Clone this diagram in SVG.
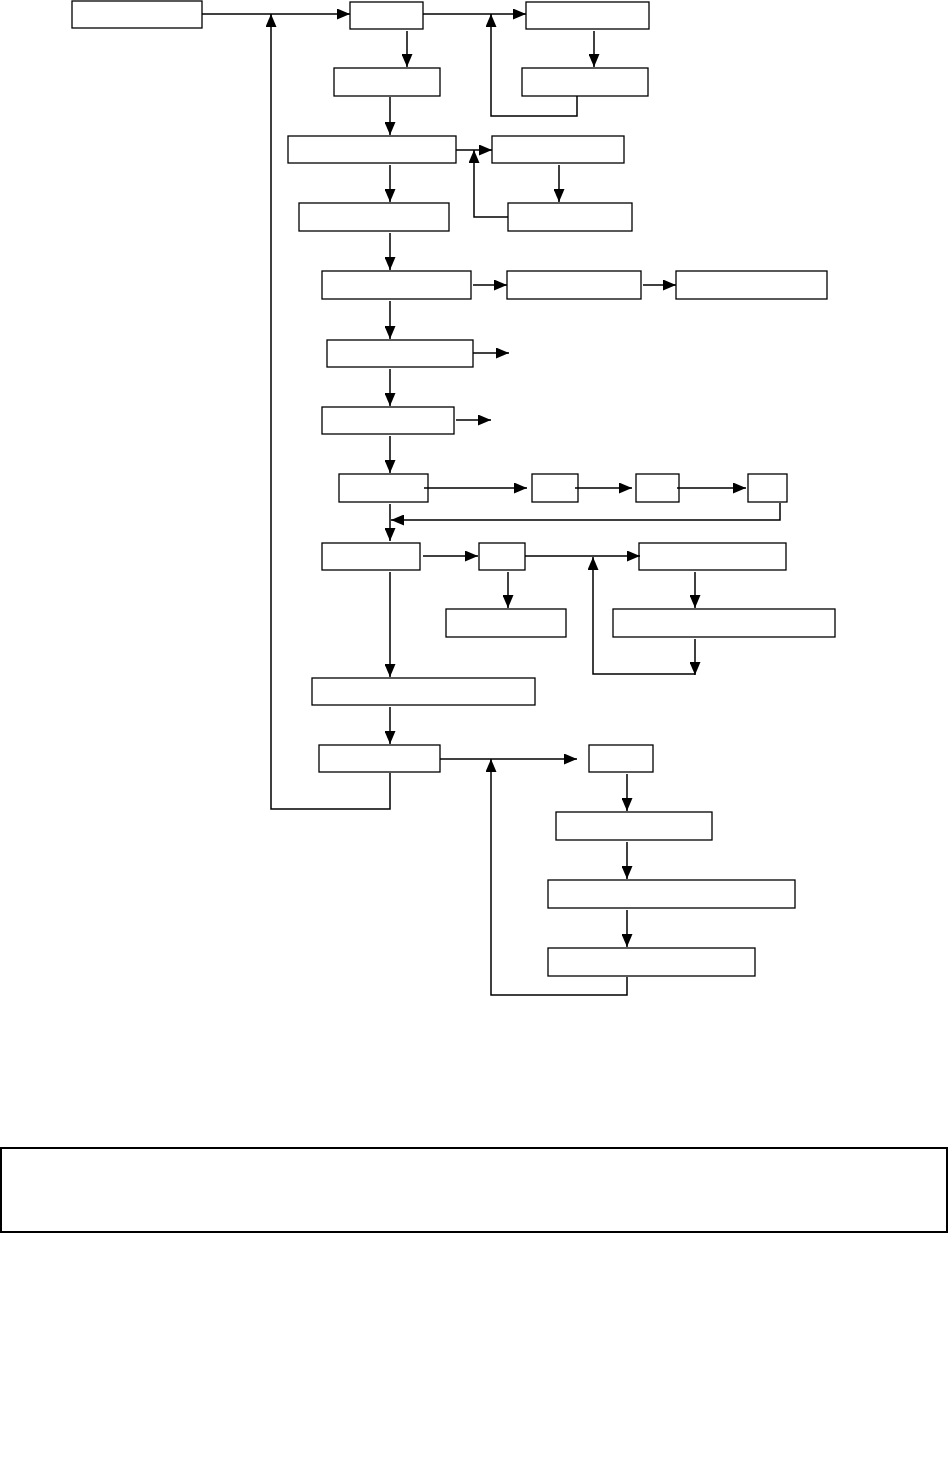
<svg xmlns="http://www.w3.org/2000/svg" width="949" height="1470" viewBox="0 0 949 1470">
<style>
.n rect{fill:#fff;stroke:#000;stroke-width:1.3}
#connectors path{fill:none;stroke:#000;stroke-width:1.5}
</style>
<defs>
<marker id="ah" markerUnits="userSpaceOnUse" markerWidth="13" markerHeight="11" refX="13" refY="5.5" orient="auto">
<path d="M0,0 L13,5.5 L0,11 z" fill="#000"/>
</marker>
</defs>
<rect width="949" height="1470" fill="#fff"/>
<g id="nodes">
<g id="A" class="n"><rect x="72" y="1" width="130" height="27"/></g>
<g id="B" class="n"><rect x="350" y="2" width="73" height="27"/></g>
<g id="C" class="n"><rect x="526" y="2" width="123" height="27"/></g>
<g id="B2" class="n"><rect x="334" y="68" width="106" height="28"/></g>
<g id="C2" class="n"><rect x="522" y="68" width="126" height="28"/></g>
<g id="D" class="n"><rect x="288" y="136" width="168" height="27"/></g>
<g id="E" class="n"><rect x="492" y="136" width="132" height="27"/></g>
<g id="E2" class="n"><rect x="508" y="203" width="124" height="28"/></g>
<g id="F" class="n"><rect x="299" y="203" width="150" height="28"/></g>
<g id="G" class="n"><rect x="322" y="271" width="149" height="28"/></g>
<g id="H" class="n"><rect x="507" y="271" width="134" height="28"/></g>
<g id="I" class="n"><rect x="676" y="271" width="151" height="28"/></g>
<g id="J" class="n"><rect x="327" y="340" width="146" height="27"/></g>
<g id="K" class="n"><rect x="322" y="407" width="132" height="27"/></g>
<g id="L" class="n"><rect x="339" y="474" width="89" height="28"/></g>
<g id="M" class="n"><rect x="532" y="474" width="46" height="28"/></g>
<g id="N" class="n"><rect x="636" y="474" width="43" height="28"/></g>
<g id="O" class="n"><rect x="748" y="474" width="39" height="28"/></g>
<g id="P" class="n"><rect x="322" y="543" width="98" height="27"/></g>
<g id="Q" class="n"><rect x="479" y="543" width="46" height="27"/></g>
<g id="R" class="n"><rect x="639" y="543" width="147" height="27"/></g>
<g id="Q2" class="n"><rect x="446" y="609" width="120" height="28"/></g>
<g id="R2" class="n"><rect x="613" y="609" width="222" height="28"/></g>
<g id="P2" class="n"><rect x="312" y="678" width="223" height="27"/></g>
<g id="S" class="n"><rect x="319" y="745" width="121" height="27"/></g>
<g id="T" class="n"><rect x="589" y="745" width="64" height="27"/></g>
<g id="U" class="n"><rect x="556" y="812" width="156" height="28"/></g>
<g id="V" class="n"><rect x="548" y="880" width="247" height="28"/></g>
<g id="W" class="n"><rect x="548" y="948" width="207" height="28"/></g>
<g id="Note" class="n"><rect x="1" y="1148" width="946" height="84" style="stroke-width:2"/></g>
</g>
<g id="connectors">
<path d="M202,14 H350" marker-end="url(#ah)"/>
<path d="M390,773 V809 H271 V14" marker-end="url(#ah)"/>
<path d="M423,14 H526" marker-end="url(#ah)"/>
<path d="M577,96 V116 H491 V14" marker-end="url(#ah)"/>
<path d="M407,31 V67" marker-end="url(#ah)"/>
<path d="M594,31 V67" marker-end="url(#ah)"/>
<path d="M390,97 V135" marker-end="url(#ah)"/>
<path d="M456,150 H492" marker-end="url(#ah)"/>
<path d="M508,217 H474 V150" marker-end="url(#ah)"/>
<path d="M559,165 V202" marker-end="url(#ah)"/>
<path d="M390,165 V202" marker-end="url(#ah)"/>
<path d="M390,233 V270" marker-end="url(#ah)"/>
<path d="M473,285 H507" marker-end="url(#ah)"/>
<path d="M643,285 H676" marker-end="url(#ah)"/>
<path d="M390,301 V339" marker-end="url(#ah)"/>
<path d="M473,353 H509" marker-end="url(#ah)"/>
<path d="M390,369 V406" marker-end="url(#ah)"/>
<path d="M456,420 H491" marker-end="url(#ah)"/>
<path d="M390,436 V473" marker-end="url(#ah)"/>
<path d="M424,488 H527" marker-end="url(#ah)"/>
<path d="M575,488 H632" marker-end="url(#ah)"/>
<path d="M677,488 H746" marker-end="url(#ah)"/>
<path d="M780,503 V520 H391" marker-end="url(#ah)"/>
<path d="M390,504 V541" marker-end="url(#ah)"/>
<path d="M423,556 H478" marker-end="url(#ah)"/>
<path d="M525,556 H640" marker-end="url(#ah)"/>
<path d="M695,674 H593 V557" marker-end="url(#ah)"/>
<path d="M508,572 V608" marker-end="url(#ah)"/>
<path d="M695,572 V608" marker-end="url(#ah)"/>
<path d="M695,639 V675" marker-end="url(#ah)"/>
<path d="M390,572 V677" marker-end="url(#ah)"/>
<path d="M390,707 V744" marker-end="url(#ah)"/>
<path d="M440,759 H577" marker-end="url(#ah)"/>
<path d="M627,977 V995 H491 V759" marker-end="url(#ah)"/>
<path d="M627,774 V811" marker-end="url(#ah)"/>
<path d="M627,842 V879" marker-end="url(#ah)"/>
<path d="M627,910 V947" marker-end="url(#ah)"/>
</g>
</svg>
